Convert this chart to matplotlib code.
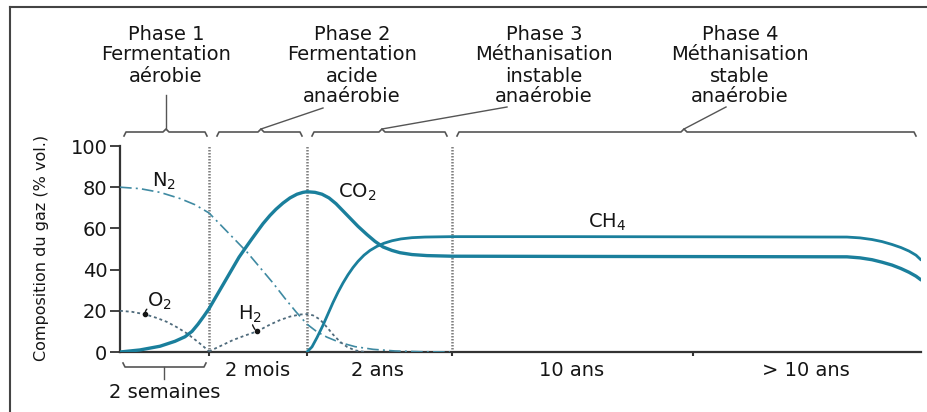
import matplotlib
matplotlib.use("Agg")
import matplotlib.pyplot as plt
from matplotlib.lines import Line2D
from matplotlib.transforms import blended_transform_factory

W, H = 928, 412

# ---------------- data (time axis is a piecewise, non-linear scale) ----------------
phase_bounds = [89, 187, 332]
scale_end = 801
tick_10ans = 573

co2_t = [0, 20, 40, 55, 65, 72, 78, 84, 89, 95, 101, 107, 113, 119, 125, 132, 138, 143, 150,
         156, 163, 170, 177, 183, 187, 195, 202, 209, 216, 223, 230, 238, 247, 255, 263, 272,
         280, 292, 307, 332, 450, 600, 727, 740, 752, 762, 772, 781, 789, 796, 801]
co2_v = [0, 1, 2.8, 5.2, 7.4, 10, 13.5, 17.5, 21, 26, 31, 36, 41, 46, 50.2, 55, 59, 62.3, 66.3,
         69.3, 72.3, 74.8, 76.6, 77.5, 77.8, 77.5, 76.6, 74.8, 72, 68.5, 65, 61, 57, 53.7, 51, 49.3,
         48.2, 47.3, 46.8, 46.5, 46.4, 46.3, 46.2, 45.7, 44.8, 43.6, 42.2, 40.5, 38.7, 36.8, 35]

ch4_t = [187, 192, 197, 203, 208, 213, 218, 223, 228, 233, 238, 244, 250, 257, 264, 272, 281,
         292, 305, 332, 450, 600, 727, 740, 752, 762, 772, 781, 789, 796, 801]
ch4_v = [0, 2.5, 7, 13, 18.5, 24, 29, 33.5, 37.5, 41, 44, 47, 49.3, 51.3, 52.8, 54, 54.9,
         55.5, 55.8, 56, 56, 55.9, 55.8, 55.4, 54.6, 53.6, 52.2, 50.7, 49, 47, 44.7]

n2_t = [0, 20, 40, 60, 75, 89, 100, 113, 127, 140, 153, 165, 176, 187, 197, 207, 220, 235, 253,
        275, 300, 330]
n2_v = [80, 79.3, 77.5, 74.5, 71.5, 67.5, 62, 55.5, 48.5, 41, 33.5, 26, 19.5, 13.5, 9.8, 7.2, 4.6,
        2.6, 1.3, 0.5, 0.15, 0]

o2_t = [0, 12, 25, 37, 47, 57, 67, 75, 82, 89]
o2_v = [20, 19.5, 18.3, 16.5, 14.6, 12, 9, 6, 3.3, 0.3]

h2_t = [89, 100, 113, 125, 137, 150, 160, 170, 180, 187, 193, 200, 207, 213, 220, 227, 235, 245]
h2_v = [0.3, 2.8, 5.8, 8, 10, 13.3, 15.5, 17.2, 18.2, 18.4, 17.8, 15.8, 12, 8.5, 5, 2.5, 0.8, 0]

y_ticks = [0, 20, 40, 60, 80, 100]

phase_lines = [["Phase 1", "Fermentation", "aérobie"],
               ["Phase 2", "Fermentation", "acide", "anaérobie"],
               ["Phase 3", "Méthanisation", "instable", "anaérobie"],
               ["Phase 4", "Méthanisation", "stable", "anaérobie"]]
phase_text_x = [46, 232, 424, 620]
bracket_spans = [(4, 87), (97, 182), (192, 327), (337, 796)]
bracket_mid = [46, 141, 262, 564]
connector_end = [(46, 95), (203, 108), (387, 107), (606, 107)]

bottom_labels = ["2 mois", "2 ans", "10 ans", "> 10 ans"]
bottom_x = [138, 257, 452, 686]

ylabel = "Composition du gaz (% vol.)"

# ---------------- figure ----------------
plt.rcParams['font.family'] = ['DejaVu Sans']
fig = plt.figure(figsize=(W / 100, H / 100), dpi=100)
fig.patch.set_facecolor("white")
ax = fig.add_axes([120 / W, 60 / H, 801 / W, 206 / H])

TXT = "#151515"
TEAL = "#1a7f9c"
DASH = "#3f8aa2"
DOT = "#4f6b7c"
FS = 14

ax.set_xlim(0, scale_end)
ax.set_ylim(0, 100)

for xb in phase_bounds:
    ax.axvline(xb, ymin=0, ymax=1, color="#7f7f7f", lw=1.8, ls=(0, (0.6, 0.6)), zorder=1)

ax.plot(co2_t, co2_v, color=TEAL, lw=2.4, solid_capstyle="round", solid_joinstyle="round", zorder=4)
ax.plot(ch4_t, ch4_v, color=TEAL, lw=2.0, solid_capstyle="round", solid_joinstyle="round", zorder=4)
ax.plot(n2_t, n2_v, color=DASH, lw=1.2, ls=(0, (7, 2.5, 1.2, 2.5)), zorder=3)
ax.plot(o2_t, o2_v, color=DOT, lw=1.3, ls=(0, (1.6, 1.6)), zorder=3)
ax.plot(h2_t, h2_v, color=DOT, lw=1.3, ls=(0, (1.6, 1.6)), zorder=3)

# spines / ticks
for s in ["top", "right"]:
    ax.spines[s].set_visible(False)
for s in ["left", "bottom"]:
    ax.spines[s].set_color("#333333")
    ax.spines[s].set_linewidth(1.6)
ax.set_yticks(y_ticks)
ax.set_yticklabels([str(v) for v in y_ticks])
ax.tick_params(axis="y", direction="out", length=7, width=1.3, color="#333333",
               labelsize=FS, labelcolor=TXT, pad=2)
ax.set_xticks(phase_bounds + [tick_10ans])
ax.set_xticklabels([])
ax.tick_params(axis="x", direction="out", length=3, width=1.5, color="#333333")

# curve labels
ax.text(44, 83, "N$_2$", fontsize=FS, color=TXT, ha="center", va="center")
ax.text(237, 77.5, "CO$_2$", fontsize=FS, color=TXT, ha="center", va="center")
ax.text(487, 63, "CH$_4$", fontsize=FS, color=TXT, ha="center", va="center")
ax.text(39, 24.5, "O$_2$", fontsize=FS, color=TXT, ha="center", va="center")
ax.text(130, 18.5, "H$_2$", fontsize=FS, color=TXT, ha="center", va="center")
ax.annotate("", xy=(o2_t[2], o2_v[2]), xytext=(29, 21.6),
            arrowprops=dict(arrowstyle="-", color=TXT, lw=1.0, connectionstyle="arc3,rad=0.3"))
ax.plot([o2_t[2]], [o2_v[2]], "o", color=TXT, ms=3, zorder=5)
ax.annotate("", xy=(h2_t[4], h2_v[4]), xytext=(132, 14.5),
            arrowprops=dict(arrowstyle="-", color=TXT, lw=1.0, connectionstyle="arc3,rad=0.2"))
ax.plot([h2_t[4]], [h2_v[4]], "o", color=TXT, ms=3, zorder=5)

# ---------------- annotations outside axes ----------------
tb = blended_transform_factory(ax.transData, fig.transFigure)


def fy(py):
    return 1 - py / H


line_y = [35, 55, 76, 96]
for lines, xc in zip(phase_lines, phase_text_x):
    for k, t in enumerate(lines):
        ax.text(xc, fy(line_y[k]), t, transform=tb, fontsize=FS, color=TXT,
                ha="center", va="center", clip_on=False)

BR = "#555555"
by = 132
for (x0, x1), xm, (cx, cy) in zip(bracket_spans, bracket_mid, connector_end):
    xs = [x0, x0 + 2, xm - 3, xm, xm + 3, x1 - 2, x1]
    ys = [by + 4, by, by, by - 3, by, by, by + 4]
    ax.plot(xs, [fy(v) for v in ys], transform=tb, color=BR, lw=1.2, clip_on=False)
    ax.plot([xm, cx], [fy(by - 3), fy(cy)], transform=tb, color=BR, lw=1.0, clip_on=False)

# bottom labels
for t, xc in zip(bottom_labels, bottom_x):
    ax.text(xc, fy(370), t, transform=tb, fontsize=FS, color=TXT,
            ha="center", va="center", clip_on=False)

# "2 semaines" bracket under phase 1
bb = 367
xs = [3, 5, 42, 45, 48, 84, 86]
ys = [bb - 4, bb, bb, bb, bb, bb, bb - 4]
ax.plot(xs, [fy(v) for v in ys], transform=tb, color=BR, lw=1.2, clip_on=False)
ax.plot([44, 44], [fy(bb), fy(379)], transform=tb, color=BR, lw=1.0, clip_on=False)
ax.text(45, fy(392), "2 semaines", transform=tb, fontsize=FS, color=TXT,
        ha="center", va="center", clip_on=False)

# y label
fig.text(42 / W, fy(248), ylabel, rotation=90, fontsize=11.5, color=TXT,
         ha="center", va="center")

# outer frame (left and top edges)
fig.add_artist(Line2D([10.5 / W, 10.5 / W], [0, fy(7)], transform=fig.transFigure,
                      color="#444444", lw=1.5))
fig.add_artist(Line2D([10.5 / W, 1], [fy(7), fy(7)], transform=fig.transFigure,
                      color="#444444", lw=1.5))

fig.savefig("out.png", dpi=100, facecolor="white")
